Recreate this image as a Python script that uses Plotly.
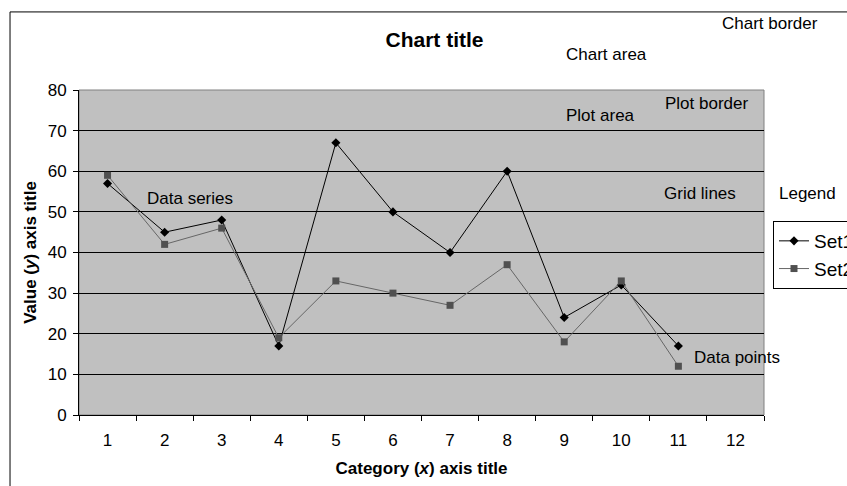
import plotly.graph_objects as go

# Chart data
categories = [str(i) for i in range(1, 13)]
set1_values = [57, 45, 48, 17, 67, 50, 40, 60, 24, 32, 17]
set2_values = [59, 42, 46, 19, 33, 30, 27, 37, 18, 33, 12]
y_ticks = list(range(0, 90, 10))

FONT = "Liberation Sans, Arial, sans-serif"

fig = go.Figure()
fig.add_trace(go.Scatter(
    x=categories[:len(set1_values)], y=set1_values, name="Set1",
    mode="lines+markers",
    line=dict(color="black", width=1),
    marker=dict(symbol="diamond", size=7, color="black"),
))
fig.add_trace(go.Scatter(
    x=categories[:len(set2_values)], y=set2_values, name="Set2",
    mode="lines+markers",
    line=dict(color="#666666", width=1),
    marker=dict(symbol="square", size=7, color="#505050"),
))

# Chart border (runs off the right and bottom of the page)
fig.add_shape(type="rect", xref="paper", yref="paper",
              x0=-0.1007, x1=2, y0=-1, y1=1.2402,
              line=dict(color="black", width=1), layer="below")
# Plot border
fig.add_shape(type="rect", xref="paper", yref="paper",
              x0=0, x1=1, y0=0, y1=1,
              line=dict(color="#808080", width=1), layer="below")

labels = [
    ("Chart border", 770, 24),
    ("Chart area", 606, 54),
    ("Plot border", 706, 103),
    ("Plot area", 600, 116),
    ("Data series", 190, 198),
    ("Grid lines", 700, 193),
    ("Legend", 807, 193),
    ("Data points", 737, 357),
]
L, R, T, B = 79, 83, 90, 71
W, H = 847, 486
pw, ph = W - L - R, H - T - B
for text, px, py in labels:
    fig.add_annotation(
        text=text, xref="paper", yref="paper",
        x=(px - L) / pw, y=(H - B - py) / ph,
        showarrow=False, xanchor="center", yanchor="middle",
        font=dict(family=FONT, size=17, color="black"),
    )

fig.update_layout(
    width=W, height=H,
    margin=dict(l=L, r=R, t=T, b=B, autoexpand=False),
    paper_bgcolor="white",
    plot_bgcolor="#c0c0c0",
    font=dict(family=FONT, size=17, color="black"),
    title=dict(text="<b>Chart title</b>", x=(434.5) / W, xanchor="center",
               y=1 - 40 / H, yanchor="middle",
               font=dict(family=FONT, size=21, color="black")),
    showlegend=True,
    legend=dict(
        x=(773 - L) / pw, xanchor="left",
        y=(H - B - 221) / ph, yanchor="top",
        bordercolor="black", borderwidth=1, bgcolor="white",
        font=dict(family=FONT, size=19, color="black"),
        itemwidth=30,
    ),
    xaxis=dict(
        type="category", categoryorder="array", categoryarray=categories,
        range=[-0.5, 11.5], tickson="boundaries",
        ticks="outside", ticklen=5, tickcolor="black",
        showgrid=False, showline=True, linecolor="black", linewidth=1,
        tickfont=dict(size=17), ticklabelstandoff=10,
        title=dict(text="<b>Category (<i>x</i>) axis title</b>",
                   font=dict(size=17), standoff=12),
        automargin=False,
    ),
    yaxis=dict(
        range=[0, 80], tickvals=y_ticks,
        ticks="outside", ticklen=5, tickcolor="black",
        showgrid=True, gridcolor="black", gridwidth=1,
        showline=True, linecolor="black", linewidth=1,
        zeroline=False,
        tickfont=dict(size=17), ticklabelstandoff=3,
        title=dict(text="<b>Value (<i>y</i>) axis title</b>",
                   font=dict(size=17), standoff=6),
        automargin=False,
    ),
)

fig.write_html("out.html")
